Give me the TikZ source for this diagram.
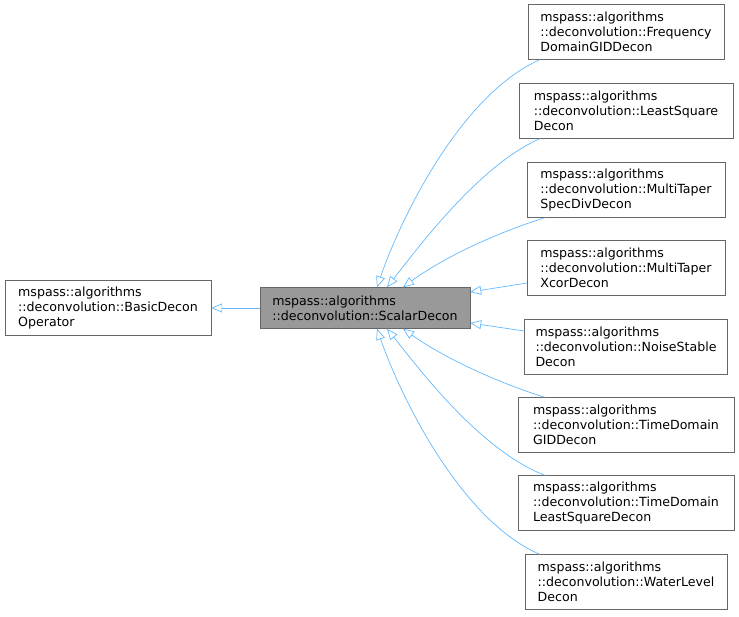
\documentclass[tikz,border=0pt]{standalone}
\usepackage{fontspec}
\setmainfont{DejaVu Sans}
\usetikzlibrary{arrows.meta}
\definecolor{edgeblue}{HTML}{63B8FF}
\definecolor{boxgray}{HTML}{666666}
\definecolor{fillgray}{HTML}{999999}
\tikzset{cls/.style={draw=boxgray, inner sep=2pt, align=left, minimum height=55pt, font=\fontsize{12.6pt}{15pt}\selectfont},
  inh/.style={draw=edgeblue, -{Triangle[open, length=11pt, width=9pt]}, line width=0.7pt}}

\begin{document}
\begin{tikzpicture}[x=1pt, y=-1pt]
\useasboundingbox (0,0) rectangle (739,616);
% the base and the central class
\node[cls, minimum width=206pt] (basic) at (108,308) {mspass::algorithms\\::deconvolution::BasicDecon\\Operator};
\node[cls, minimum width=210pt, minimum height=41pt, fill=fillgray] (scalar) at (365,308) {mspass::algorithms\\::deconvolution::ScalarDecon};
% the derived classes
\node[cls, minimum width=196pt] (freq) at (626,32) {mspass::algorithms\\::deconvolution::Frequency\\DomainGIDDecon};
\node[cls, minimum width=214pt] (lsq) at (626,111) {mspass::algorithms\\::deconvolution::LeastSquare\\Decon};
\node[cls, minimum width=198pt] (mtspec) at (626,190) {mspass::algorithms\\::deconvolution::MultiTaper\\SpecDivDecon};
\node[cls, minimum width=198pt] (mtxcor) at (626,268) {mspass::algorithms\\::deconvolution::MultiTaper\\XcorDecon};
\node[cls, minimum width=203pt] (noise) at (626,347) {mspass::algorithms\\::deconvolution::NoiseStable\\Decon};
\node[cls, minimum width=216pt] (tdgid) at (626,425) {mspass::algorithms\\::deconvolution::TimeDomain\\GIDDecon};
\node[cls, minimum width=216pt] (tdlsq) at (626,503) {mspass::algorithms\\::deconvolution::TimeDomain\\LeastSquareDecon};
\node[cls, minimum width=202pt] (water) at (626,582) {mspass::algorithms\\::deconvolution::WaterLevel\\Decon};
% the inheritance edges
\draw[inh] (scalar.west) -- (basic.east);
\draw[inh] ([xshift=12pt]freq.south west) .. controls (460,95) and (400,220) .. ([xshift=12pt]scalar.north);
\draw[inh] ([xshift=21pt]lsq.south west) .. controls (480,165) and (420,245) .. ([xshift=22pt]scalar.north);
\draw[inh] ([xshift=18pt]mtspec.south west) .. controls (490,235) and (440,260) .. ([xshift=38pt]scalar.north);
\draw[inh] (mtxcor.west |- 0,283) -- (scalar.east |- 0,292);
\draw[inh] (noise.west |- 0,331) -- (scalar.east |- 0,323);
\draw[inh] ([xshift=27pt]tdgid.north west) .. controls (490,380) and (440,355) .. ([xshift=38pt]scalar.south);
\draw[inh] ([xshift=27pt]tdlsq.north west) .. controls (480,450) and (420,370) .. ([xshift=22pt]scalar.south);
\draw[inh] ([xshift=15pt]water.north west) .. controls (460,520) and (400,395) .. ([xshift=12pt]scalar.south);
\end{tikzpicture}
\end{document}
